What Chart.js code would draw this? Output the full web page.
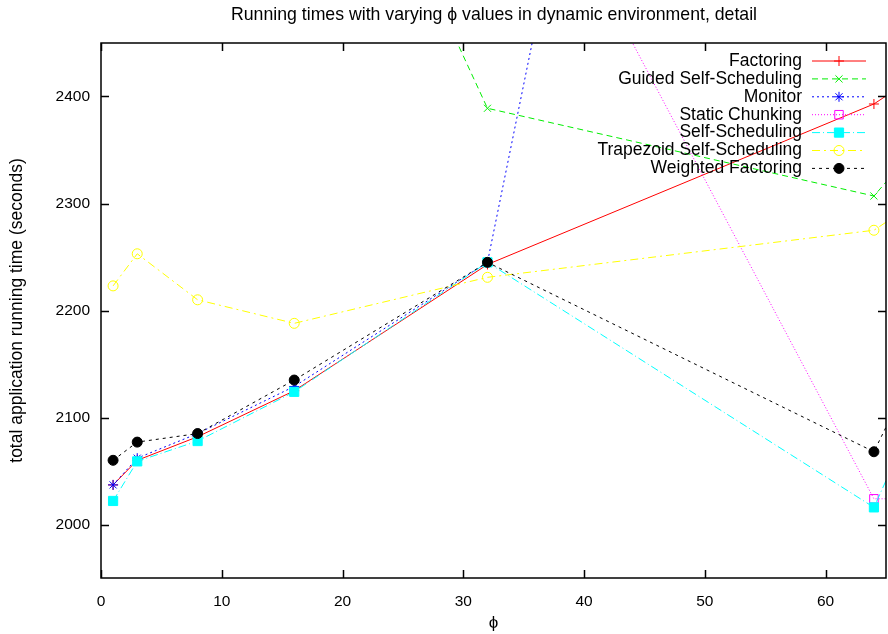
<!DOCTYPE html>
<html>
<head>
<meta charset="utf-8">
<script src="https://cdn.jsdelivr.net/npm/chart.js@4.4.0/dist/chart.umd.min.js"></script>
<style>
  html, body { margin: 0; padding: 0; background: #fff; }
</style>
</head>
<body>
<canvas id="phiChart" width="888" height="634"></canvas>
<script>
// phi values used in the runs
var phi = [1, 3, 8, 16, 32, 64, 128];

// running times (seconds) per technique
var factoring      = [2037, 2060, 2082, 2125, 2243, 2393, 2873];
var guided         = [2980, 2920, 2850, 2780, 2389, 2307, 3139];
var monitor        = [2037, 2062, 2085, 2129, 2245, 4018, 4300];
var staticChunking = [3400, 3250, 3050, 2900, 2706, 2024, 2026];
var selfScheduling = [2022, 2059, 2078, 2124, 2245, 2016, 3616];
var trapezoid      = [2223, 2253, 2210, 2188, 2231, 2275, 2755];
var weighted       = [2060, 2077, 2085, 2135, 2245, 2068, 3540];

var xTicks = [0, 10, 20, 30, 40, 50, 60];
var yTicks = [2000, 2100, 2200, 2300, 2400];

var FONT = "'Liberation Sans', Arial, Helvetica, sans-serif";

function pts(arr) {
  return phi.map(function(x, i) { return { x: x, y: arr[i] }; });
}

function series(label, arr, color, dash, style, radius, filled) {
  return {
    label: label,
    data: pts(arr),
    borderColor: color,
    backgroundColor: color,
    borderWidth: 1,
    borderDash: dash,
    pointStyle: style,
    pointRadius: radius,
    pointBorderColor: color,
    pointBackgroundColor: filled ? color : 'rgba(0,0,0,0)',
    pointBorderWidth: 1,
    pointHoverRadius: radius,
    tension: 0,
    fill: false
  };
}

var datasets = [
  series('Factoring', factoring, '#ff0000', [], 'cross', 5, false),
  series('Guided Self-Scheduling', guided, '#00ee00', [6, 4], 'crossRot', 5, false),
  series('Monitor', monitor, '#0000ff', [2, 3], 'star', 5, false),
  series('Static Chunking', staticChunking, '#ff00ff', [1, 2], 'rect', 6, false),
  series('Self-Scheduling', selfScheduling, '#00ffff', [8, 3, 1, 3], 'rect', 6.5, true),
  series('Trapezoid Self-Scheduling', trapezoid, '#ffff00', [8, 4, 2, 4], 'circle', 5, false),
  series('Weighted Factoring', weighted, '#000000', [3, 4], 'circle', 5, true)
];
// later series sit on top
datasets.forEach(function(d, i) { d.order = datasets.length - i; });

// frame, inward ticks on all four sides, title and key
var framePlugin = {
  id: 'frame',
  afterDraw: function(chart) {
    var ctx = chart.ctx, a = chart.chartArea;
    var xs = chart.scales.x, ys = chart.scales.y;
    ctx.save();
    ctx.strokeStyle = '#000';
    ctx.lineWidth = 1.5;
    ctx.setLineDash([]);
    ctx.strokeRect(a.left, a.top, a.right - a.left, a.bottom - a.top);
    ctx.beginPath();
    yTicks.forEach(function(v) {
      var y = Math.round(ys.getPixelForValue(v)) + 0.5;
      ctx.moveTo(a.left, y); ctx.lineTo(a.left + 8, y);
      ctx.moveTo(a.right, y); ctx.lineTo(a.right - 8, y);
    });
    xTicks.forEach(function(v) {
      var x = Math.round(xs.getPixelForValue(v)) + 0.5;
      ctx.moveTo(x, a.bottom); ctx.lineTo(x, a.bottom - 8);
      ctx.moveTo(x, a.top); ctx.lineTo(x, a.top + 8);
    });
    ctx.stroke();

    ctx.fillStyle = '#000';
    ctx.font = '17.7px ' + FONT;
    ctx.textAlign = 'center';
    ctx.textBaseline = 'middle';
    ctx.fillText('Running times with varying \u03d5 values in dynamic environment, detail', 494, 15);

    // key
    ctx.font = '17.5px ' + FONT;
    ctx.textAlign = 'right';
    chart.data.datasets.forEach(function(d, i) {
      var y = 61 + i * 17.9;
      ctx.fillStyle = '#000';
      ctx.fillText(d.label, 802, y);
      ctx.strokeStyle = d.borderColor;
      ctx.lineWidth = 1;
      ctx.setLineDash(d.borderDash);
      ctx.beginPath();
      ctx.moveTo(812, y); ctx.lineTo(866, y);
      ctx.stroke();
      ctx.setLineDash([]);
      ctx.fillStyle = d.pointBackgroundColor;
      Chart.helpers.drawPoint(ctx, {
        pointStyle: d.pointStyle, radius: d.pointRadius, rotation: 0, borderWidth: 1
      }, 839, y);
    });
    ctx.restore();
  }
};

new Chart(document.getElementById('phiChart'), {
  type: 'line',
  data: { datasets: datasets },
  options: {
    responsive: false,
    animation: false,
    layout: { autoPadding: false, padding: { top: 43, right: 2, left: 0, bottom: 0 } },
    plugins: {
      legend: { display: false },
      tooltip: { enabled: false },
      title: { display: false }
    },
    scales: {
      x: {
        type: 'linear',
        min: 0,
        max: 65,
        afterFit: function(s) { s.height = 56; s.paddingLeft = 0; s.paddingRight = 0; },
        afterBuildTicks: function(s) {
          s.ticks = xTicks.map(function(v) { return { value: v }; });
        },
        grid: { display: false, drawTicks: false },
        border: { display: false },
        ticks: {
          color: '#000', padding: 14, font: { family: FONT, size: 15.5 },
          callback: function(v) { return String(v); }
        },
        title: {
          display: true, text: '\u03d5', color: '#000',
          padding: { top: 5, bottom: 0 }, font: { family: FONT, size: 17 }
        }
      },
      y: {
        type: 'linear',
        min: 1950,
        max: 2450,
        afterFit: function(s) { s.width = 101; s.paddingTop = 0; s.paddingBottom = 0; },
        afterBuildTicks: function(s) {
          s.ticks = yTicks.map(function(v) { return { value: v }; });
        },
        grid: { display: false, drawTicks: false },
        border: { display: false },
        ticks: {
          color: '#000', padding: 11, font: { family: FONT, size: 15.5 },
          callback: function(v) { return String(v); }
        },
        title: {
          display: true, text: 'total application running time (seconds)', color: '#000',
          padding: { top: 7, bottom: 0 }, font: { family: FONT, size: 17.5 }
        }
      }
    }
  },
  plugins: [framePlugin]
});
</script>
</body>
</html>
